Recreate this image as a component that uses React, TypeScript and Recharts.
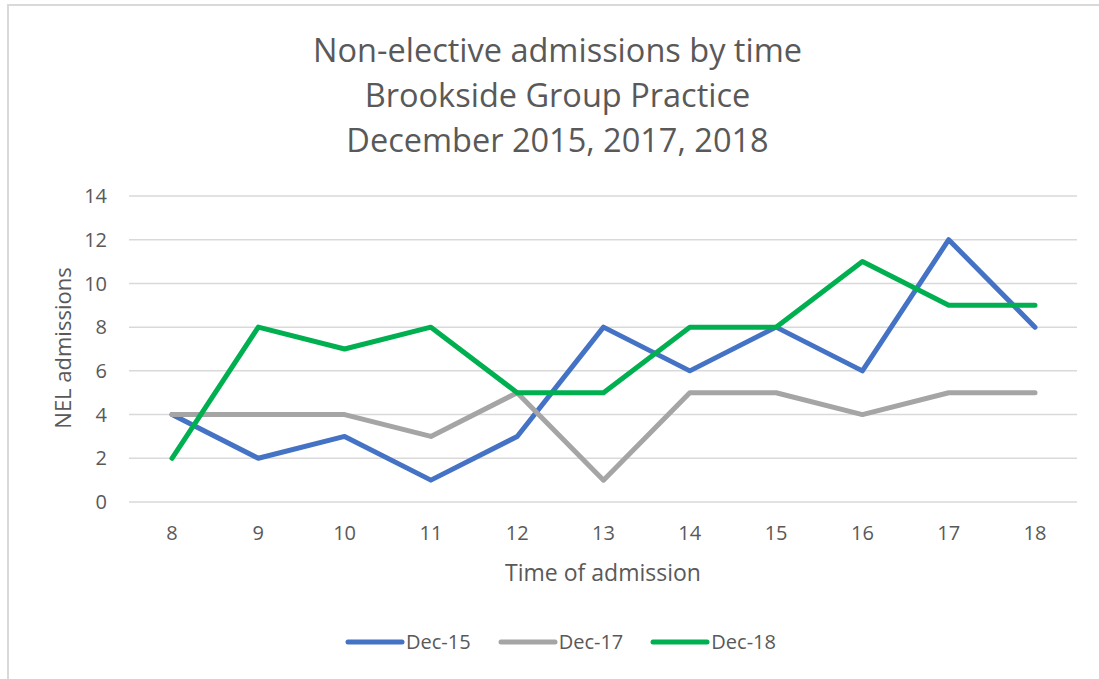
import React from 'react';
import { LineChart, Line, XAxis, YAxis, CartesianGrid, Legend } from 'recharts';

const hours = ['8', '9', '10', '11', '12', '13', '14', '15', '16', '17', '18'];
const dec15 = [4, 2, 3, 1, 3, 8, 6, 8, 6, 12, 8];
const dec17 = [4, 4, 4, 3, 5, 1, 5, 5, 4, 5, 5];
const dec18 = [2, 8, 7, 8, 5, 5, 8, 8, 11, 9, 9];
const yTicks = [0, 2, 4, 6, 8, 10, 12, 14];
const titleLines = ['Non-elective admissions by time', 'Brookside Group Practice', 'December 2015, 2017, 2018'];
const seriesNames = ['Dec-15', 'Dec-17', 'Dec-18'];
const seriesColors = ['#4472C4', '#A5A5A5', '#00B050'];

const data = hours.map((h, i) => ({ hour: h, d15: dec15[i], d17: dec17[i], d18: dec18[i] }));

const FONT = '"Open Sans", sans-serif';
const TEXT = '#595959';

const LegendContent = (props: any) => {
  const items = props.payload || [];
  return (
    <div style={{ display: 'flex', justifyContent: 'center', alignItems: 'center', fontFamily: FONT, fontSize: 20, color: TEXT }}>
      {items.map((it: any, i: number) => (
        <div key={i} style={{ display: 'flex', alignItems: 'center', marginRight: i < items.length - 1 ? 27 : 0 }}>
          <svg width={60} height={12} style={{ display: 'block' }}>
            <line x1={3} y1={6} x2={57} y2={6} stroke={it.color} strokeWidth={5} strokeLinecap="round" />
          </svg>
          <span style={{ marginLeft: 1 }}>{it.value}</span>
        </div>
      ))}
    </div>
  );
};

export default function App() {
  return (
    <div style={{ position: 'absolute', left: 0, top: 0, width: 1099, height: 679, background: '#fff', overflow: 'hidden' }}>
      <div style={{ position: 'absolute', left: 7, top: 4, width: 1200, height: 800, border: '2px solid #d9d9d9', boxSizing: 'border-box' }} />
      <div style={{ position: 'absolute', left: 0, top: 0, width: 1099, height: 679 }}>
        <LineChart width={1099} height={679} data={data} margin={{ top: 196, right: 22, bottom: 147, left: 0 }}>
          <CartesianGrid vertical={false} stroke="#d9d9d9" strokeWidth={1.5} />
          <XAxis
            dataKey="hour"
            height={30}
            padding={{ left: 43, right: 42 }}
            axisLine={false}
            tickLine={false}
            tickSize={0}
            tickMargin={24}
            interval={0}
            tick={{ fill: TEXT, fontSize: 20, fontFamily: FONT }}
          />
          <YAxis
            width={129}
            domain={[0, 14]}
            ticks={yTicks}
            interval={0}
            axisLine={false}
            tickLine={false}
            tickSize={0}
            tickMargin={22}
            tick={{ fill: TEXT, fontSize: 20, fontFamily: FONT }}
          />
          <Line type="linear" dataKey="d15" name={seriesNames[0]} stroke={seriesColors[0]} strokeWidth={5} dot={false} isAnimationActive={false} strokeLinejoin="round" strokeLinecap="round" />
          <Line type="linear" dataKey="d17" name={seriesNames[1]} stroke={seriesColors[1]} strokeWidth={5} dot={false} isAnimationActive={false} strokeLinejoin="round" strokeLinecap="round" />
          <Line type="linear" dataKey="d18" name={seriesNames[2]} stroke={seriesColors[2]} strokeWidth={5} dot={false} isAnimationActive={false} strokeLinejoin="round" strokeLinecap="round" />
          <Legend
            layout="horizontal"
            verticalAlign="middle"
            align="center"
            content={<LegendContent />}
            wrapperStyle={{ top: 628, left: 11, width: 1099 }}
          />
        </LineChart>
      </div>
      <div style={{ position: 'absolute', left: 0, top: 26.5, width: 1115, textAlign: 'center', fontFamily: FONT, fontSize: 32.5, lineHeight: '45px', color: TEXT }}>
        {titleLines.map((t, i) => (
          <div key={i}>{t}</div>
        ))}
      </div>
      <div style={{ position: 'absolute', left: 403, top: 556, width: 400, textAlign: 'center', fontFamily: FONT, fontSize: 23, lineHeight: '32px', color: TEXT }}>
        Time of admission
      </div>
      <div style={{ position: 'absolute', left: 62 - 150, top: 348 - 16, width: 300, height: 32, textAlign: 'center', fontFamily: FONT, fontSize: 22, lineHeight: '32px', color: TEXT, transform: 'rotate(-90deg)' }}>
        NEL admissions
      </div>
    </div>
  );
}
